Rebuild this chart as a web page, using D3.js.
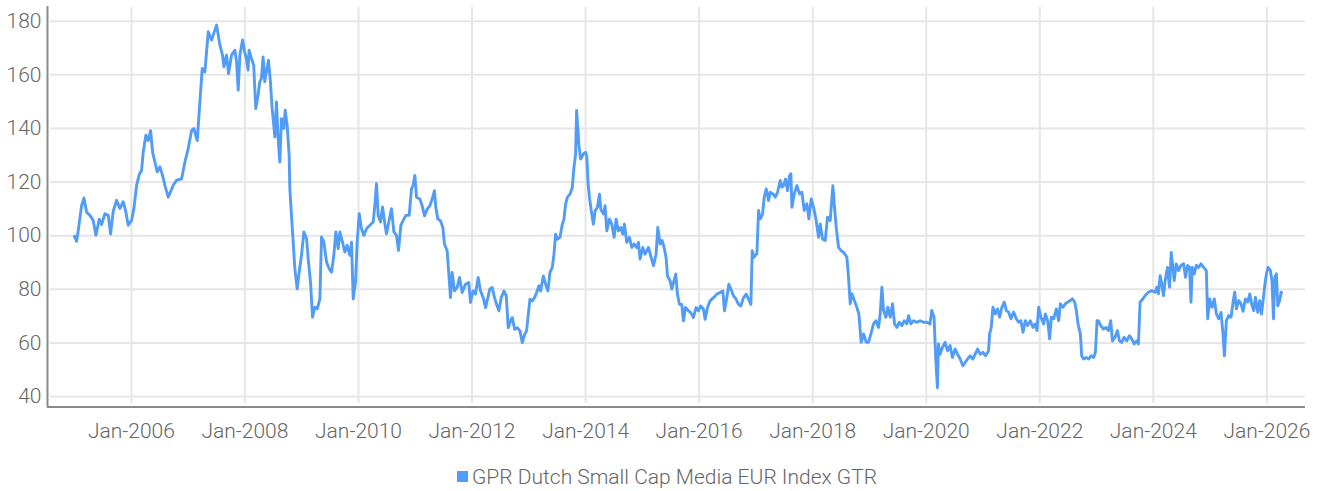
<!DOCTYPE html>
<html>
<head>
<meta charset="utf-8">
<script src="https://cdn.jsdelivr.net/npm/d3@7"></script>
<style>
  html, body { margin: 0; padding: 0; background: #ffffff; }
  svg { display: block; }
  text { font-family: Roboto, "Noto Sans", sans-serif; }
</style>
</head>
<body>
<svg id="chart" width="1323" height="491"></svg>
<script>
// ---- data (decimal years, index values) ----
const seriesName = "GPR Dutch Small Cap Media EUR Index GTR";

const years = [
  2004.996,2005.043,2005.072,2005.131,2005.172,2005.219,2005.278,2005.336,2005.383,2005.442,
  2005.483,2005.542,2005.601,2005.642,2005.689,2005.747,2005.806,2005.865,2005.912,2005.953,
  2006.012,2006.053,2006.100,2006.147,2006.188,2006.217,2006.264,2006.305,2006.347,2006.382,
  2006.423,2006.464,2006.511,2006.558,2006.599,2006.658,2006.699,2006.746,2006.805,2006.893,
  2006.952,2007.010,2007.069,2007.110,2007.169,2007.216,2007.257,2007.304,2007.333,2007.363,
  2007.421,2007.480,2007.510,2007.568,2007.615,2007.639,2007.686,2007.721,2007.774,2007.833,
  2007.862,2007.891,2007.921,2007.968,2008.003,
  2008.035,2008.065,2008.082,2008.123,2008.164,2008.200,2008.241,2008.270,2008.300,2008.329,
  2008.358,2008.388,2008.423,2008.458,2008.488,2008.517,2008.535,2008.564,2008.593,2008.623,
  2008.652,2008.693,2008.717,2008.752,2008.787,2008.799,2008.828,2008.858,2008.887,2008.928,
  2008.963,2009.004,2009.046,2009.093,2009.122,2009.163,2009.198,2009.239,2009.281,2009.328,
  2009.357,2009.398,2009.445,2009.492,2009.533,2009.574,2009.609,2009.651,2009.680,2009.727,
  2009.768,2009.809,2009.856,2009.886,2009.915,2009.956,2009.985,2010.021,2010.062,2010.103,
  2010.150,2010.209,2010.267,2010.297,2010.326,2010.355,2010.397,2010.432,2010.473,2010.502,
  2010.543,2010.590,2010.632,2010.679,2010.714,2010.755,2010.796,2010.843,2010.902,2010.943,
  2010.972,2011.002,2011.031,
  2011.090,2011.131,2011.172,2011.219,2011.266,2011.307,2011.348,2011.371,2011.407,2011.454,
  2011.495,2011.524,2011.571,2011.601,2011.630,2011.659,2011.700,2011.747,2011.789,2011.836,
  2011.894,2011.953,2011.982,2012.029,2012.070,2012.117,2012.159,2012.206,2012.247,2012.288,
  2012.323,2012.364,2012.405,2012.441,2012.482,2012.523,2012.570,2012.611,2012.646,2012.687,
  2012.717,2012.758,2012.805,2012.852,2012.893,2012.934,2012.969,2012.993,2013.028,2013.069,
  2013.110,2013.145,2013.187,2013.216,2013.263,2013.304,2013.345,2013.380,2013.421,2013.451,
  2013.480,2013.510,2013.557,2013.598,2013.627,2013.656,2013.686,2013.733,2013.774,2013.803,
  2013.833,2013.850,2013.874,2013.891,2013.921,2013.968,2014.009,
  2014.029,2014.053,2014.076,2014.117,2014.147,2014.176,2014.217,2014.253,2014.276,2014.323,
  2014.352,2014.382,2014.429,2014.470,2014.511,2014.546,2014.587,2014.629,2014.664,2014.693,
  2014.734,2014.781,2014.822,2014.863,2014.910,2014.940,2014.969,2015.016,2015.057,2015.116,
  2015.157,2015.204,2015.251,2015.281,2015.322,2015.357,2015.392,2015.427,2015.451,2015.498,
  2015.527,2015.568,2015.598,2015.627,2015.662,2015.703,2015.733,2015.768,2015.821,2015.862,
  2015.909,2015.956,2015.997,2016.038,2016.085,2016.115,2016.156,2016.203,2016.261,2016.320,
  2016.379,2016.426,2016.455,2016.496,2016.532,2016.567,2016.614,2016.661,2016.702,2016.743,
  2016.790,2016.837,2016.878,2016.919,2016.943,2016.972,2017.013,
  2017.025,2017.054,2017.084,2017.125,2017.154,2017.189,2017.231,2017.260,2017.307,2017.348,
  2017.389,2017.436,2017.465,2017.495,2017.530,2017.565,2017.601,2017.624,2017.642,2017.683,
  2017.730,2017.777,2017.818,2017.859,2017.906,2017.941,2017.982,2018.023,2018.065,2018.112,
  2018.141,2018.182,2018.229,2018.270,2018.317,2018.364,2018.388,2018.423,2018.464,2018.505,
  2018.552,2018.611,2018.640,2018.670,2018.699,2018.740,2018.787,2018.822,2018.863,2018.905,
  2018.952,2018.993,2019.034,2019.081,2019.122,2019.169,2019.198,2019.228,2019.257,2019.298,
  2019.333,2019.375,2019.416,2019.451,2019.492,2019.533,2019.580,2019.621,2019.668,2019.698,
  2019.739,2019.786,2019.844,2019.903,2019.962,
  2020.018,2020.076,2020.106,2020.147,2020.176,2020.206,2020.224,2020.253,2020.294,2020.341,
  2020.382,2020.429,2020.471,2020.518,2020.559,2020.606,2020.653,2020.694,2020.735,2020.782,
  2020.829,2020.871,2020.912,2020.959,2021.006,2021.053,2021.106,2021.124,2021.153,2021.182,
  2021.224,2021.265,2021.300,2021.341,2021.382,2021.418,2021.459,2021.500,2021.547,2021.594,
  2021.635,2021.676,2021.712,2021.753,2021.794,2021.841,2021.888,2021.929,2021.959,2021.988,
  2022.029,2022.076,2022.106,2022.147,2022.182,2022.212,2022.253,2022.300,2022.341,2022.371,
  2022.418,2022.459,2022.500,2022.547,2022.582,2022.624,2022.653,2022.682,2022.724,2022.747,
  2022.782,2022.829,2022.871,2022.912,2022.959,2022.988,2023.018,
  2023.041,2023.082,2023.129,2023.176,2023.218,2023.259,2023.288,2023.335,2023.376,2023.412,
  2023.453,2023.494,2023.541,2023.588,2023.629,2023.671,2023.718,2023.747,2023.776,2023.824,
  2023.865,2023.924,2023.982,2024.041,2024.071,2024.100,2024.129,2024.159,2024.188,2024.218,
  2024.259,2024.294,2024.324,2024.353,2024.376,2024.412,2024.453,2024.494,2024.541,2024.576,
  2024.612,2024.647,2024.671,2024.694,2024.729,2024.765,2024.806,2024.847,2024.894,2024.941,
  2024.965,2025.000,2025.041,2025.082,2025.118,2025.159,2025.200,2025.235,2025.259,2025.294,
  2025.335,2025.376,2025.412,2025.441,2025.471,2025.512,2025.553,2025.588,2025.629,2025.671,
  2025.706,2025.747,2025.776,2025.806,2025.847,2025.882,2025.912,2025.941,2025.971,2026.000,
  2026.029,2026.071,2026.100,2026.124,2026.147,2026.176,2026.200,2026.235,2026.259,2026.276
];

const values = [
  100,97.7,101.8,111,113.9,108.6,107.4,105.5,100,106,
  104,108,107.4,100.5,109,113,110,112.5,108.6,103.7,
  105.5,110,118.6,122.6,124.2,131,137.3,135.3,139,131,
  127.3,123.6,125.5,122.3,118.6,114.2,116.2,118.6,120.5,121,
  127.3,132.3,139,139.8,135.3,149.7,162.2,160.9,168.4,175.9,
  172.8,176.5,178.4,170.9,167.2,162.8,167.2,160.3,167.2,169,
  164.7,154.1,167.2,172.8,168.4,
  166,161.6,169,166,163.4,147.2,152.2,157.2,158.5,166.5,
  157.2,161,165.3,157.2,147.2,141,136.7,149.7,136,127.3,
  143.5,139.8,146.6,141,129.8,117.4,107.4,97.4,87.5,80,
  86.2,92.5,101.2,98.7,91.2,82.5,69.4,73.1,72.5,76.2,
  99.3,97.4,90,87.5,86.2,92.5,101.2,95,101.2,97.4,
  93.7,96.2,92.5,97.4,76.2,82.5,97.4,108,102.4,99.9,
  102.4,103.7,104.9,111.1,119.2,107.4,104.9,110.5,104.3,100.5,
  104.9,109.9,101.2,99.9,94.3,103.7,105.5,107.4,107.4,117.4,
  118.6,122.3,114.2,
  113.5,111,107.2,109.7,111,113.5,116.6,110.4,106,105.4,
  102.9,96.7,94.2,85.5,76.7,86.1,79.2,80.5,84.2,78.6,
  81.7,82.3,74.9,79.2,78,84.2,79.2,76.7,73,76.7,
  79.9,80.5,76.7,74.2,71.8,76.7,79.2,77.4,65.5,68,
  69.3,64.9,65.5,64.3,59.9,63,64.3,69.3,76.1,75.5,
  76.7,78.6,81.1,79.2,84.8,81.7,79.2,86.1,87.9,92.9,
  100.4,98.5,99.2,104.1,106,111.6,114.1,115.3,117.8,125.3,
  130.3,146.5,139,133.4,128.4,130.3,130.9,
  129.5,119.1,114.1,107.9,104.1,109.1,110.4,115.3,109.7,107.9,
  111,101.6,106,104.1,99.2,106,101.6,102.9,100.4,104.1,
  97.3,99.2,95.4,96.7,95.4,97.3,91.1,95.4,92.9,95.4,
  92.3,88.6,92.9,102.9,96.7,98,95.4,91.7,84.8,83,
  79.9,83,85.5,78,74.2,74.2,68,73,71.8,71.1,
  69.3,73,71.8,73.6,72.4,68.6,73,75.5,76.7,78,
  78.6,79.2,71.8,76.7,81.7,79.9,77.4,76.1,74.2,73.6,
  76.7,78,76.1,74.2,94.2,91.7,92.9,
  93,109.2,106.1,107.9,114.2,117.3,112.9,116,115.4,114.2,
  116,120.4,117.9,118.5,121,116.6,122.2,122.9,110.4,115.4,
  118.5,115.4,116,109.2,111.7,106.1,113.5,110.4,106.1,99.2,
  104.2,98.6,98,106.7,105.4,118.5,111.7,103,95.5,94.3,
  93.6,91.8,84.3,74.4,78.2,75.7,73.1,70.6,60,63.2,
  60,60,63.2,66.9,68.1,65.6,70.6,80.6,71.9,69.4,
  73.1,69.4,74.4,66.9,65.6,67.5,66.3,68.1,66.9,70,
  66.9,68.1,67.5,68.1,67.5,
  67.5,66.9,71.9,69.4,54.4,43.1,59.4,55.6,58.1,60,
  56.9,58.8,54.4,57.5,55.6,53.8,51.3,52.5,53.8,55,
  53.8,55.6,57.5,55.6,56.3,55,56.9,63.1,65.6,73.1,
  70.6,72.5,69.4,73.1,75,71.9,71.3,68.8,71.3,68.8,
  67.5,68.1,63.8,68.1,66.3,68.1,65.6,66.9,64.4,73.1,
  69.4,66.9,70.6,68.1,61.3,69.4,68.8,72.5,68.1,74.4,
  73.1,74.4,75,75.6,76.3,75,71.9,66.9,63.1,55,
  53.8,54.4,53.8,55,54.4,56.3,68.1,
  68.1,66.3,65,65.6,64.4,68.1,60.6,61.9,64.4,60.6,
  60,61.9,60.6,62.5,61.3,59.4,60.6,59.4,75,76.2,
  77.5,78.7,79.3,78.7,80.6,78.1,84.9,81.8,77.5,83.1,
  88,80.6,93.6,88,83.1,89.3,86.8,88.7,89.3,84.3,
  88.7,88,75,88,85.6,88.7,88,89.3,88,86.8,
  68.8,76.2,73.1,76.2,70.6,68.8,71.2,63.1,55,68.1,
  70,69.4,75,78.7,72.5,75.6,74.4,71.6,76.2,75,
  78.1,73.7,71.9,76.8,71.2,75.6,70.6,75.6,81.2,85.6,
  88,86.8,82.4,68.8,84.3,85.6,73.7,75.6,78.7,78.1
];

const yTicks = [40, 60, 80, 100, 120, 140, 160, 180];
const xTickYears = [2006, 2008, 2010, 2012, 2014, 2016, 2018, 2020, 2022, 2024, 2026];

// ---- helpers ----
function decYearToDate(y) {
  const yr = Math.floor(y);
  const a = Date.UTC(yr, 0, 1), b = Date.UTC(yr + 1, 0, 1);
  return new Date(a + (y - yr) * (b - a));
}
const data = years.map((y, i) => ({ date: decYearToDate(y), value: values[i] }));

// ---- layout ----
const svg = d3.select("#chart");
const plot = { left: 48, right: 1305, top: 6, bottom: 407 };
const lineColor = "#519cf6";
const gridColor = "#e6e6e6";
const axisColor = "#8a8a8a";
const textColor = "#666666";
const fontSize = "21px";

const x = d3.scaleUtc()
  .domain([decYearToDate(2004.54), decYearToDate(2026.68)])
  .range([plot.left, plot.right]);
const y = d3.scaleLinear()
  .domain([35.9, 185.5])
  .range([plot.bottom, plot.top]);

// horizontal grid
svg.append("g")
  .attr("transform", `translate(${plot.right},0)`)
  .call(d3.axisLeft(y).tickValues(yTicks).tickSize(plot.right - plot.left - 2).tickFormat(""))
  .call(g => g.select(".domain").remove())
  .call(g => g.selectAll("line").attr("stroke", gridColor).attr("stroke-width", 2));

// vertical grid
const xTicks = xTickYears.map(yy => new Date(Date.UTC(yy, 0, 1)));
svg.append("g")
  .attr("transform", `translate(0,${plot.bottom - 4})`)
  .call(d3.axisTop(x).tickValues(xTicks).tickSize(plot.bottom - 4 - (plot.top + 1)).tickFormat(""))
  .call(g => g.select(".domain").remove())
  .call(g => g.selectAll("line").attr("stroke", gridColor).attr("stroke-width", 2));

// line
const line = d3.line()
  .x(d => x(d.date))
  .y(d => y(d.value))
  .curve(d3.curveLinear);

svg.append("path")
  .datum(data)
  .attr("fill", "none")
  .attr("stroke", lineColor)
  .attr("stroke-width", 2.9)
  .attr("stroke-linejoin", "round")
  .attr("d", line);

// y axis
const yAxis = svg.append("g")
  .attr("transform", `translate(${plot.left - 0.5},0)`)
  .call(d3.axisLeft(y).tickValues(yTicks).tickSize(0).tickPadding(6).tickFormat(d3.format("d")));
yAxis.select(".domain").attr("stroke", axisColor).attr("stroke-width", 2)
  .attr("d", `M0,${plot.top}V${plot.bottom}`);
yAxis.selectAll("text")
  .attr("fill", textColor)
  .style("font-size", fontSize)
  .style("font-weight", 300)
  .style("font-family", "Roboto, sans-serif");

// x axis
const fmt = d3.utcFormat("%b-%Y");
const xAxis = svg.append("g")
  .attr("transform", `translate(0,${plot.bottom})`)
  .call(d3.axisBottom(x).tickValues(xTicks).tickSize(0).tickPadding(16).tickFormat(fmt));
xAxis.select(".domain").attr("stroke", axisColor).attr("stroke-width", 2)
  .attr("d", `M${plot.left - 1},0H${plot.right}`);
xAxis.selectAll("text")
  .attr("fill", textColor)
  .style("font-size", fontSize)
  .style("font-weight", 300)
  .style("font-family", "Roboto, sans-serif");

// legend
const legend = svg.append("g").attr("transform", "translate(457,471)");
legend.append("rect")
  .attr("x", 0).attr("y", 0).attr("width", 11).attr("height", 11)
  .attr("fill", lineColor);
legend.append("text")
  .attr("x", 15).attr("y", 6)
  .attr("dominant-baseline", "central")
  .attr("fill", textColor)
  .style("font-size", fontSize)
  .style("font-weight", 300)
  .style("font-family", "Roboto, sans-serif")
  .text(seriesName);
</script>
</body>
</html>
